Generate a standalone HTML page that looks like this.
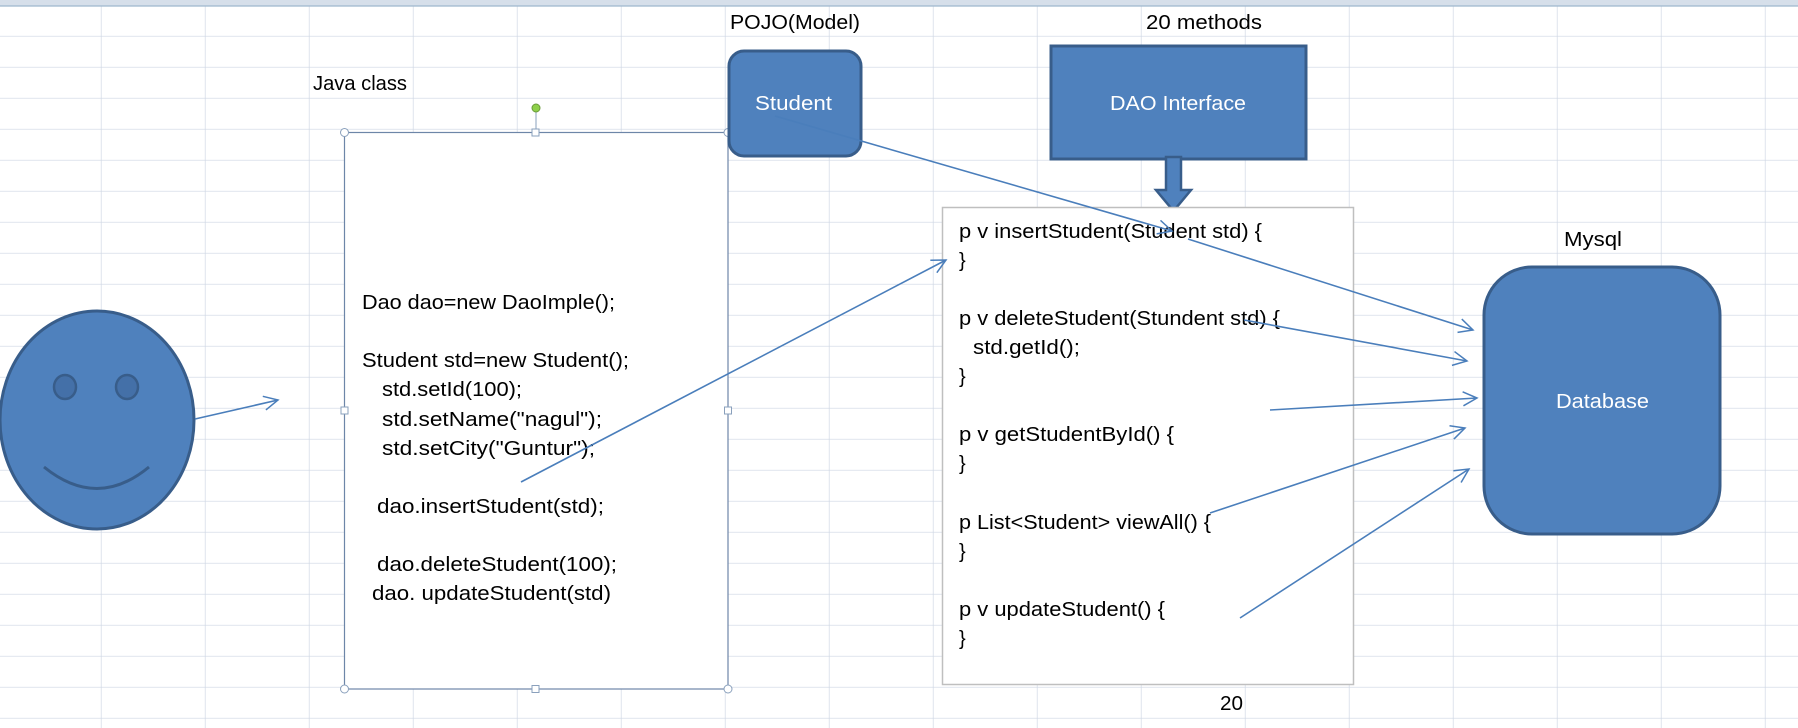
<!DOCTYPE html>
<html><head><meta charset="utf-8"><style>
html,body{margin:0;padding:0;background:#fff;}
svg{display:block;}
text{font-family:"Liberation Sans",sans-serif;font-size:20px;fill:#000;}
.w{fill:#fff;}
</style></head><body>
<svg width="1798" height="728" viewBox="0 0 1798 728" xmlns="http://www.w3.org/2000/svg">
<defs>
<pattern id="g" x="-2.5" y="5.5" width="104" height="31" patternUnits="userSpaceOnUse">
<path d="M104 0V31M0 31H104" stroke="#cdd5e3" stroke-width="1.3" fill="none"/>
</pattern>
<marker id="a" markerWidth="20" markerHeight="20" refX="16" refY="8" orient="auto" markerUnits="userSpaceOnUse">
<path d="M2 1L16 8L2 15" fill="none" stroke="#4a7ebb" stroke-width="1.5"/>
</marker>
</defs>
<rect width="1798" height="728" fill="url(#g)"/>
<rect width="1798" height="6" fill="#d6dfea"/>
<line x1="0" y1="6" x2="1798" y2="6" stroke="#9eb6ce" stroke-width="1.2"/>

<ellipse cx="97" cy="420" rx="97" ry="109" fill="#4f81bd" stroke="#385d8a" stroke-width="3"/>
<ellipse cx="65" cy="387" rx="11" ry="12" fill="#4470a8" stroke="#385d8a" stroke-width="2.5"/>
<ellipse cx="127" cy="387" rx="11" ry="12" fill="#4470a8" stroke="#385d8a" stroke-width="2.5"/>
<path d="M44 467Q97 510 149 467" fill="none" stroke="#385d8a" stroke-width="3"/>
<line x1="195" y1="419" x2="278" y2="400" stroke="#4a7ebb" stroke-width="1.6" marker-end="url(#a)"/>

<text x="313" y="90" textLength="94" lengthAdjust="spacingAndGlyphs">Java class</text>
<rect x="344.5" y="132.5" width="383.5" height="556.5" fill="#fff" stroke="#6d86a8" stroke-width="1.2"/>
<line x1="536" y1="108" x2="536" y2="132" stroke="#8aa0bc" stroke-width="1"/>
<circle cx="536" cy="108" r="4" fill="#8ed04a" stroke="#6a9a3a"/>
<g fill="#fff" stroke="#8aa0bc" stroke-width="1">
<circle cx="344.5" cy="132.5" r="4"/><circle cx="728" cy="132.5" r="4"/>
<circle cx="344.5" cy="689" r="4"/><circle cx="728" cy="689" r="4"/>
<rect x="532" y="129" width="7" height="7"/><rect x="532" y="685.5" width="7" height="7"/>
<rect x="341" y="407" width="7" height="7"/><rect x="724.5" y="407" width="7" height="7"/>
</g>
<text x="362" y="309" textLength="253" lengthAdjust="spacingAndGlyphs">Dao dao=new DaoImple();</text>
<text x="362" y="367" textLength="267" lengthAdjust="spacingAndGlyphs">Student std=new Student();</text>
<text x="382" y="396" textLength="140" lengthAdjust="spacingAndGlyphs">std.setId(100);</text>
<text x="382" y="426" textLength="220" lengthAdjust="spacingAndGlyphs">std.setName("nagul");</text>
<text x="382" y="455" textLength="213" lengthAdjust="spacingAndGlyphs">std.setCity("Guntur");</text>
<text x="377" y="513" textLength="227" lengthAdjust="spacingAndGlyphs">dao.insertStudent(std);</text>
<text x="377" y="571" textLength="240" lengthAdjust="spacingAndGlyphs">dao.deleteStudent(100);</text>
<text x="372" y="600" textLength="239" lengthAdjust="spacingAndGlyphs">dao. updateStudent(std)</text>

<text x="730" y="29" textLength="130" lengthAdjust="spacingAndGlyphs">POJO(Model)</text>
<rect x="729" y="51" width="132" height="105" rx="15" fill="#4f81bd" stroke="#385d8a" stroke-width="3"/>
<text class="w" x="755" y="110" textLength="77" lengthAdjust="spacingAndGlyphs">Student</text>

<text x="1146" y="29" textLength="116" lengthAdjust="spacingAndGlyphs">20 methods</text>
<rect x="1051" y="46" width="255" height="113" fill="#4f81bd" stroke="#385d8a" stroke-width="3"/>
<text class="w" x="1110" y="110" textLength="136" lengthAdjust="spacingAndGlyphs">DAO Interface</text>
<path d="M1166 157H1181V190H1191L1173.5 211L1156 190H1166Z" fill="#4f81bd" stroke="#385d8a" stroke-width="2.5"/>

<rect x="942.5" y="207.5" width="411" height="477" fill="#fff" stroke="#bfbfbf" stroke-width="1.5"/>
<text x="959" y="238" textLength="303" lengthAdjust="spacingAndGlyphs">p v insertStudent(Student std) {</text>
<text x="959" y="267">}</text>
<text x="959" y="325" textLength="321" lengthAdjust="spacingAndGlyphs">p v deleteStudent(Stundent std) {</text>
<text x="973" y="354" textLength="107" lengthAdjust="spacingAndGlyphs">std.getId();</text>
<text x="959" y="383">}</text>
<text x="959" y="441" textLength="215" lengthAdjust="spacingAndGlyphs">p v  getStudentById() {</text>
<text x="959" y="470">}</text>
<text x="959" y="529" textLength="252" lengthAdjust="spacingAndGlyphs">p List&lt;Student&gt; viewAll() {</text>
<text x="959" y="558">}</text>
<text x="959" y="616" textLength="206" lengthAdjust="spacingAndGlyphs">p v updateStudent() {</text>
<text x="959" y="645">}</text>
<text x="1220" y="710" textLength="23" lengthAdjust="spacingAndGlyphs">20</text>

<text x="1564" y="246" textLength="58" lengthAdjust="spacingAndGlyphs">Mysql</text>
<rect x="1484" y="267" width="236" height="267" rx="48" fill="#4f81bd" stroke="#385d8a" stroke-width="3"/>
<text class="w" x="1556" y="408" textLength="93" lengthAdjust="spacingAndGlyphs">Database</text>

<g stroke="#4a7ebb" stroke-width="1.6" fill="none">
<line x1="775" y1="116" x2="1172" y2="231" marker-end="url(#a)"/>
<line x1="1188" y1="239" x2="1473" y2="330" marker-end="url(#a)"/>
<line x1="521" y1="482" x2="946" y2="260" marker-end="url(#a)"/>
<line x1="1244" y1="320" x2="1467" y2="361" marker-end="url(#a)"/>
<line x1="1270" y1="410" x2="1477" y2="398" marker-end="url(#a)"/>
<line x1="1210" y1="513" x2="1465" y2="428" marker-end="url(#a)"/>
<line x1="1240" y1="618" x2="1469" y2="469" marker-end="url(#a)"/>
</g>
</svg>
</body></html>
